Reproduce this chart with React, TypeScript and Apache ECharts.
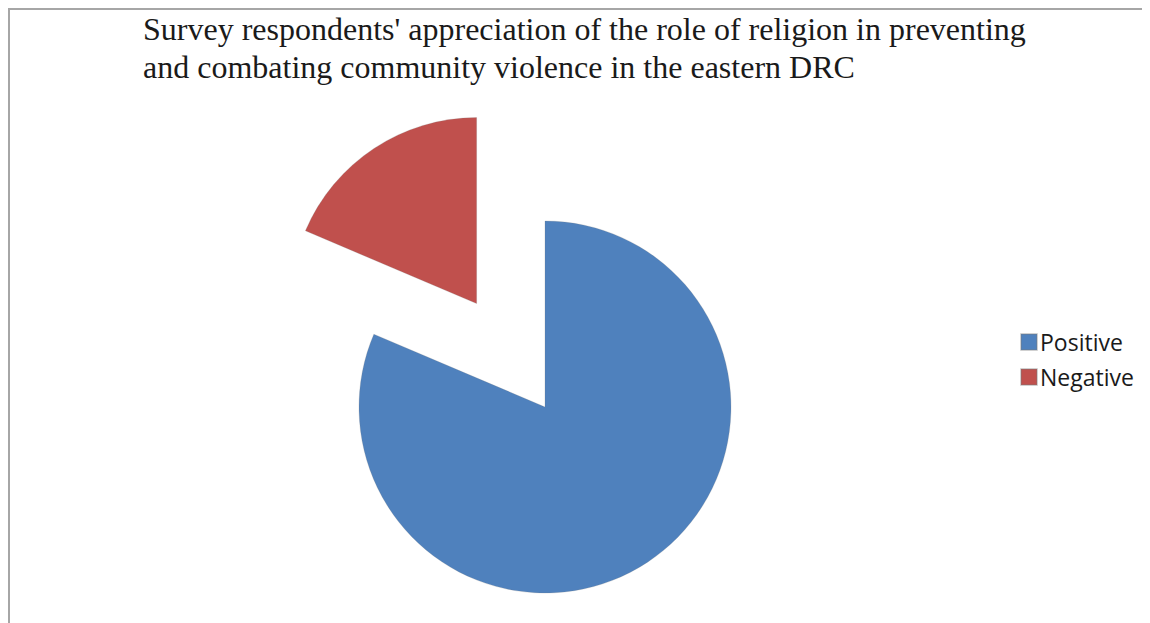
import React, { useEffect, useRef } from "react";
import * as echarts from "echarts";

const titleLines = [
  "Survey respondents' appreciation of the role of religion in preventing",
  "and combating community violence in the eastern DRC",
];
const categories = ["Positive", "Negative"];
const values = [81.4, 18.6];
const colors = ["#4F81BD", "#C0504D"];

export default function App() {
  const ref = useRef<HTMLDivElement>(null);
  useEffect(() => {
    if (!ref.current) return;
    const chart = echarts.init(ref.current, undefined, { renderer: "svg" });
    chart.setOption({
      animation: false,
      backgroundColor: "#ffffff",
      title: {
        text: titleLines.join("\n"),
        left: 133,
        top: 0,
        padding: 0,
        textStyle: {
          fontFamily: "'Liberation Serif', 'Times New Roman', serif",
          fontSize: 32,
          lineHeight: 38,
          fontWeight: "normal",
          color: "#1a1a1a",
        },
      },
      legend: {
        orient: "vertical",
        left: 1005,
        top: 315,
        itemWidth: 16,
        itemHeight: 16,
        itemGap: 11,
        icon: "rect",
        data: categories,
        textStyle: {
          fontFamily: "'Open Sans', 'Liberation Sans', sans-serif",
          fontSize: 23,
          lineHeight: 24,
          color: "#1a1a1a",
          padding: [0, 0, 0, -2],
        },
      },
      series: [
        {
          type: "pie",
          center: [535, 397],
          radius: 186,
          startAngle: 90,
          clockwise: true,
          selectedMode: "single",
          selectedOffset: 124,
          label: { show: false },
          labelLine: { show: false },
          emphasis: { disabled: true },
          itemStyle: { borderColor: "rgba(120,120,120,0.35)", borderWidth: 0.6 },
          data: categories.map((name, i) => ({
            name,
            value: values[i],
            selected: i === 1,
            itemStyle: { color: colors[i] },
          })),
        },
      ],
    });
    return () => chart.dispose();
  }, []);
  return (
    <div
      ref={ref}
      style={{
        width: 1140,
        height: 613,
        borderTop: "2px solid #a6a6a6",
        borderLeft: "2px solid #a6a6a6",
      }}
    />
  );
}
